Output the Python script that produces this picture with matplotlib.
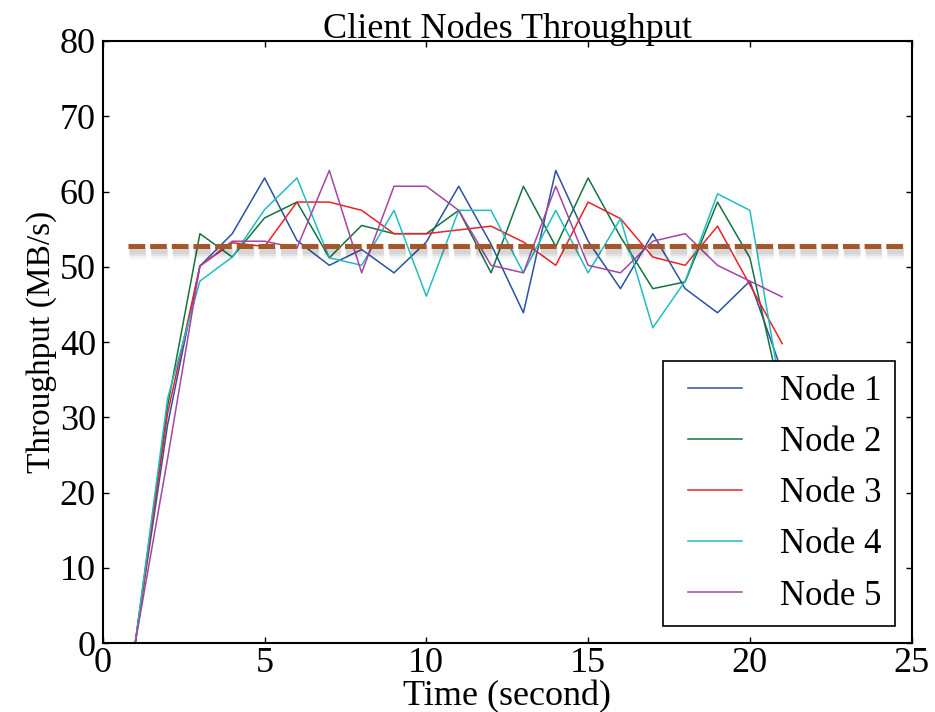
import numpy as np
import matplotlib
matplotlib.use('Agg')
import matplotlib.pyplot as plt
import matplotlib.patheffects as pe
from matplotlib.legend_handler import HandlerLine2D

# ==========================================
# Throughput samples per client node (MB/s)
# ==========================================
time_s = list(range(1, 22))

node1 = [0, 29.0, 50.1, 54.4, 61.8, 53.5, 50.2, 52.3, 49.2, 53.3, 60.7,
         53.0, 43.9, 62.8, 53.4, 47.1, 54.4, 47.1, 43.9, 48.1, 36.0]
node2 = [0, 31.5, 54.4, 51.3, 56.5, 58.6, 51.2, 55.5, 54.4, 54.4, 57.5,
         49.2, 60.7, 52.7, 61.8, 54.0, 47.1, 48.0, 58.6, 51.2, 32.0]
node3 = [0, 30.5, 50.1, 53.2, 52.7, 58.6, 58.6, 57.5, 54.4, 54.4, 54.9,
         55.4, 53.3, 50.2, 58.6, 56.4, 51.3, 50.2, 55.4, 47.6, 39.8]
node4 = [0, 32.5, 48.1, 51.3, 57.6, 61.8, 51.2, 50.2, 57.5, 46.1, 57.5,
         57.5, 49.2, 57.5, 49.2, 56.4, 41.9, 48.1, 59.7, 57.5, 32.5]
node5 = [0, 24.5, 50.1, 53.4, 53.4, 52.5, 62.8, 49.2, 60.7, 60.7, 57.5,
         50.2, 49.2, 60.7, 50.2, 49.2, 53.4, 54.4, 50.2, 48.1, 46.0]

node_labels = ['Node 1', 'Node 2', 'Node 3', 'Node 4', 'Node 5']
avg_throughput = 52.7
avg_span = [0.77, 24.76]

# ==========================================
# Plotting
# ==========================================
plt.rcParams.update({'font.family': 'Liberation Serif', 'font.size': 25})

fig = plt.figure(figsize=(9.35, 7.12), dpi=100)
ax = fig.add_axes([0.110, 0.0965, 0.865, 0.846])

colors = ['#2A52A4', '#13743F', '#EE2028', '#21BCC0', '#A545A3']
for series, label, col in zip([node1, node2, node3, node4, node5], node_labels, colors):
    ax.plot(time_s, series, color=col, linewidth=1.1, label=label)

# Average throughput reference line with a soft drop shadow
shadow = [pe.SimpleLineShadow(offset=(1, -3), shadow_color='k', alpha=a, linewidth=w)
          for a, w in [(0.025, 12), (0.035, 9), (0.05, 6.5), (0.06, 4.5)]]
ax.plot(avg_span, [avg_throughput, avg_throughput], color='#A5562B', linewidth=3.6,
        linestyle=(0, (3.33, 1.0)), dash_capstyle='butt',
        path_effects=shadow + [pe.Normal()], zorder=4)

ax.set_xlim(0, 25)
ax.set_ylim(0, 80)
ax.set_xticks([0, 5, 10, 15, 20, 25])
ax.set_yticks(range(0, 81, 10))
ax.tick_params(direction='in', top=True, right=True, length=4.5, width=1.0,
               labelsize=26, pad=3)
ax.tick_params(axis='y', pad=5)
for sp in ax.spines.values():
    sp.set_linewidth(1.5)

ax.set_title('Client Nodes Throughput', fontsize=26, pad=2)
ax.set_xlabel('Time (second)', fontsize=26, labelpad=0)
ax.set_ylabel('Throughput (MB/s)', fontsize=24, labelpad=2)

leg = ax.legend(loc='lower right', bbox_to_anchor=(0.98, 0.028), fontsize=25,
                fancybox=False, framealpha=1, edgecolor='black',
                handlelength=1.87, handletextpad=1.1, labelspacing=0.52,
                borderpad=0.4, borderaxespad=0,
                handler_map={plt.Line2D: HandlerLine2D(xpad=0.32)})
leg.get_frame().set_linewidth(1.2)

plt.savefig('out.png', dpi=100)
